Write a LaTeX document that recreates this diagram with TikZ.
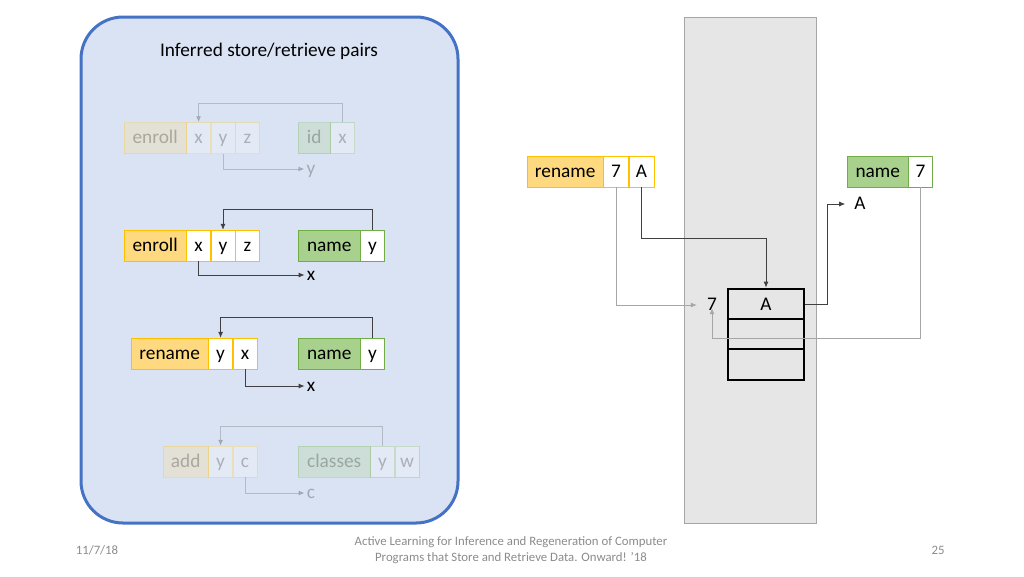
\documentclass[tikz,border=0pt]{standalone}
\usepackage{fontspec}
\setmainfont{Carlito}
\usetikzlibrary{arrows.meta,positioning}
\definecolor{panelfill}{HTML}{DAE3F3}
\definecolor{panelline}{HTML}{4472C4}
\definecolor{ordfill}{HTML}{FFD980}
\definecolor{ordline}{HTML}{FFC000}
\definecolor{grnfill}{HTML}{A9D18E}
\definecolor{grnline}{HTML}{70AD47}
\definecolor{memfill}{HTML}{E7E6E6}
\definecolor{memline}{HTML}{A6A6A6}
\definecolor{footgray}{HTML}{8B8B8B}
\definecolor{linkdark}{HTML}{404040}
\newcommand\boxfont{\fontsize{19.3}{22}\selectfont}
\tikzset{
  cell/.style={draw, minimum height=31, inner sep=0, anchor=west, font=\boxfont, text height=12.5, text depth=1.5},
  opbox/.style={cell, fill=ordfill, draw=ordline},
  opcell/.style={cell, fill=white, draw=ordline, minimum width=24},
  rdbox/.style={cell, fill=grnfill, draw=grnline},
  rdcell/.style={cell, fill=white, draw=grnline, minimum width=24},
  outlbl/.style={font=\boxfont, inner sep=2, text height=12.5, text depth=1.5},
  link/.style={draw=linkdark, line width=0.8, -{Latex[length=6,width=5]}},
  glink/.style={draw=memline, line width=1, -{Latex[length=6,width=5]}},
  memcell/.style={draw, line width=2.8, fill=memfill, minimum width=76, minimum height=30, inner sep=0, font=\boxfont},
  faded/.style={opacity=0.25}
}
\begin{document}
\begin{tikzpicture}[x=1pt, y=-1pt]
\useasboundingbox (0,0) rectangle (1024,576);
% left panel
\draw[panelline, fill=panelfill, line width=3, rounded corners=42] (81,17) rectangle (458,523);
\node (title) at (269,51) [font=\fontsize{19.3}{22}\selectfont]{Inferred store/retrieve pairs};
% pair 1 (faded)
\begin{scope}[faded]
\node (e1) at (124,138) [opbox, minimum width=62]{enroll};
\node (e1x) at (e1.east) [opcell]{x};
\node (e1y) at (e1x.east) [opcell]{y};
\node (e1z) at (e1y.east) [opcell]{z};
\node (i1) at (298,138) [rdbox, minimum width=32]{id};
\node (i1x) at (i1.east) [rdcell]{x};
\node (o1) at (311,169) [outlbl]{y};
\draw[link] (i1x.north) -- ++(0,-19) -| (e1x.north);
\draw[link] (e1y.south) |- (o1.west);
\end{scope}
% pair 2
\node (e2) at (124,245.5) [opbox, minimum width=62]{enroll};
\node (e2x) at (e2.east) [opcell]{x};
\node (e2y) at (e2x.east) [opcell]{y};
\node (e2z) at (e2y.east) [opcell]{z};
\node (n2) at (298,245.5) [rdbox, minimum width=62]{name};
\node (n2y) at (n2.east) [rdcell]{y};
\node (o2) at (311,275) [outlbl]{x};
\draw[link] (n2y.north) -- ++(0,-20) -| (e2y.north);
\draw[link] (e2x.south) |- (o2.west);
% pair 3
\node (r3) at (131,353.5) [opbox, minimum width=77]{rename};
\node (r3y) at (r3.east) [opcell]{y};
\node (r3x) at (r3y.east) [opcell]{x};
\node (n3) at (298,353.5) [rdbox, minimum width=62]{name};
\node (n3y) at (n3.east) [rdcell]{y};
\node (o3) at (311,386) [outlbl]{x};
\draw[link] (n3y.north) -- ++(0,-20) -| (r3y.north);
\draw[link] (r3x.south) |- (o3.west);
% pair 4 (faded)
\begin{scope}[faded]
\node (a4) at (163,461.5) [opbox, minimum width=45]{add};
\node (a4y) at (a4.east) [opcell]{y};
\node (a4c) at (a4y.east) [opcell]{c};
\node (c4) at (298,461.5) [rdbox, minimum width=72]{classes};
\node (c4y) at (c4.east) [rdcell]{y};
\node (c4w) at (c4y.east) [rdcell]{w};
\node (o4) at (311,493) [outlbl]{c};
\draw[link] (c4y.north) -- ++(0,-19) -| (a4y.north);
\draw[link] (a4c.south) |- (o4.west);
\end{scope}
% store
\draw[memline, fill=memfill, line width=1] (684,17) rectangle (816,523);
\node (m1) at (766,304) [memcell]{A};
\node (m2) at (766,334) [memcell]{};
\node (m3) at (766,364.5) [memcell, minimum height=31]{};
\node (v7) at (712,305) [outlbl]{7};
% right calls
\node (r) at (527,171.5) [opbox, minimum width=76]{rename};
\node (r7) at (r.east) [opcell, minimum width=25]{7};
\node (rA) at (r7.east) [opcell, minimum width=25]{A};
\node (n) at (847,171.5) [rdbox, minimum width=61]{name};
\node (n7) at (n.east) [rdcell]{7};
\node (vA) at (860,204) [outlbl]{A};
\draw[glink] (r7.south) |- ([xshift=-8]v7.west);
\draw[link] (rA.south) -- ++(0,51) -| (m1.north);
\draw[link] (m1.east) -- ++(22,0) |- ([xshift=-7]vA.west);
\draw[glink] (n7.south) -- ++(0,151) -| ([yshift=6]v7.south);
% footer
\begin{scope}[footgray, font=\fontsize{12.8}{16}\selectfont]
\node (date) at (97,550) {11/7/18};
\node (cite) at (511,550) [align=center]{Active Learning for Inference and Regeneration of Computer\\Programs that Store and Retrieve Data. Onward! '18};
\node (page) at (938,550) {25};
\end{scope}
\end{tikzpicture}
\end{document}
